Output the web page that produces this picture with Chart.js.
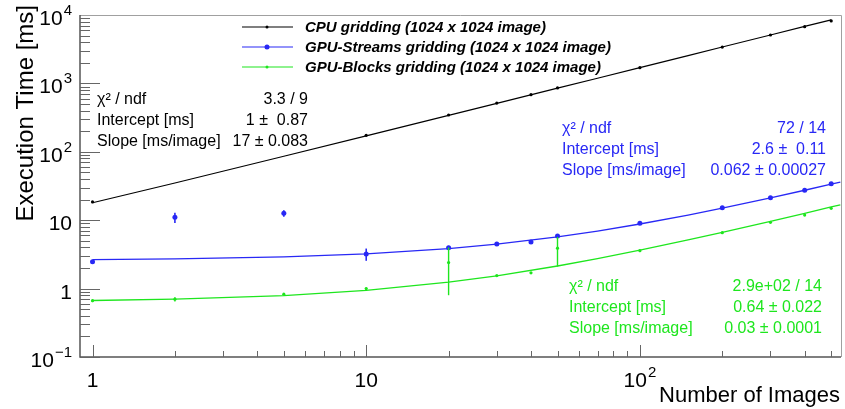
<!DOCTYPE html>
<html>
<head>
<meta charset="utf-8">
<script src="https://cdn.jsdelivr.net/npm/chart.js@4.4.1/dist/chart.umd.min.js"></script>
<style>
  html, body { margin: 0; padding: 0; background: #fff; }
  #wrap { width: 845px; height: 409px; }
</style>
</head>
<body>
<div id="wrap"><canvas id="myChart" width="845" height="409"></canvas></div>
<script>
'use strict';

// measured points
let nImages = [1, 2, 5, 10, 20, 30, 40, 50, 100, 200, 300, 400, 500];
let cpuImages = [1, 10, 20, 30, 40, 50, 100, 200, 300, 400, 500];
let cpuTime = [18.5, 174, 345, 515, 685, 860, 1700, 3400, 5100, 6750, 8200];
let streamsTime = [2.47, 11.0, 12.6, 3.2, 3.96, 4.49, 4.8, 5.87, 9.0, 15.2, 21.3, 27.5, 34.0];
let streamsErr = [0.15, 1.9, 1.4, 0.65, 0.25, 0.1, 0.1, 0.3, 0.3, 0.2, 0.3, 0.3, 0.4];
let blocksTime = [0.665, 0.70, 0.83, 1.0, 2.4, 1.55, 1.7, 3.9, 3.58, 6.56, 9.3, 11.9, 14.9];
let blocksErr = [0.03, 0.05, 0.03, 0.04, 1.6, 0.03, 0.03, 1.8, 0.05, 0.1, 0.1, 0.1, 0.15];

// fit curves
let fitImages = [1, 2, 5, 10, 20, 30, 50, 70, 100, 150, 200, 300, 400, 500, 540];
let cpuFit = [18, 35, 86, 171, 341, 511, 851, 1191, 1701, 2551, 3401, 5101, 6801, 8501];
let streamsFit = [2.66, 2.72, 2.91, 3.22, 3.84, 4.46, 5.70, 6.94, 8.80, 11.9, 15.0, 21.2, 27.4, 33.6, 36.1];
let blocksFit = [0.67, 0.70, 0.79, 0.94, 1.24, 1.54, 2.14, 2.74, 3.64, 5.14, 6.64, 9.64, 12.6, 15.6, 16.8];

// axis tick labels [value, base, exponent]
let yTicks = [[0.1, '10', '\u22121'], [1, '1', ''], [10, '10', ''], [100, '10', '2'], [1000, '10', '3'], [10000, '10', '4']];
let xTicks = [[1, '1', ''], [10, '10', ''], [100, '10', '2']];

let legendNames = ['CPU gridding (1024 x 1024 image)', 'GPU-Streams gridding (1024 x 1024 image)', 'GPU-Blocks gridding (1024 x 1024 image)'];

let black = '#000000';
let blue = 'rgb(40,40,245)';
let green = 'rgb(30,230,30)';

function pts(xs, ys){
    let out = [];
    for (let i = 0; i < ys.length; i++){
        out.push({x: xs[i], y: ys[i]});
    }
    return out;
}

let fontName = '"Liberation Sans", Arial, sans-serif';

function drawPow(ctx, base, exp, x, y, align){
    ctx.font = '21px ' + fontName;
    let bw = ctx.measureText(base).width;
    ctx.font = '15px ' + fontName;
    let ew = exp ? ctx.measureText(exp).width + 1 : 0;
    let total = bw + ew;
    let left = align === 'right' ? x - total : x - total / 2;
    ctx.textAlign = 'left';
    ctx.font = '21px ' + fontName;
    ctx.fillText(base, left, y);
    if (exp){
        ctx.font = '15px ' + fontName;
        ctx.fillText(exp, left + bw + 1, y - 10);
    }
}

let rootPlugin = {
    id: 'rootStyle',
    afterDatasetsDraw(chart){
        let ctx = chart.ctx;
        let xs = chart.scales.x;
        let ys = chart.scales.y;
        // error bars
        let sets = [[streamsTime, streamsErr, blue, 1.6], [blocksTime, blocksErr, green, 1.4]];
        ctx.save();
        for (let s of sets){
            ctx.strokeStyle = s[2];
            ctx.lineWidth = s[3];
            for (let i = 0; i < s[0].length; i++){
                let px = xs.getPixelForValue(nImages[i]);
                ctx.beginPath();
                ctx.moveTo(px, ys.getPixelForValue(s[0][i] - s[1][i]));
                ctx.lineTo(px, ys.getPixelForValue(s[0][i] + s[1][i]));
                ctx.stroke();
            }
        }
        ctx.restore();
    },
    afterDraw(chart){
        let ctx = chart.ctx;
        let a = chart.chartArea;
        let xs = chart.scales.x;
        let ys = chart.scales.y;
        ctx.save();

        // frame
        ctx.lineWidth = 1;
        ctx.strokeStyle = '#a0a0a0';
        ctx.beginPath();
        ctx.moveTo(a.left, a.top + 0.5);
        ctx.lineTo(a.right + 0.5, a.top + 0.5);
        ctx.lineTo(a.right + 0.5, a.bottom);
        ctx.stroke();
        ctx.strokeStyle = '#555';
        ctx.lineWidth = 1.5;
        ctx.beginPath();
        ctx.moveTo(a.left, a.top);
        ctx.lineTo(a.left, a.bottom);
        ctx.lineTo(a.right, a.bottom);
        ctx.stroke();

        // ticks inside the frame
        ctx.lineWidth = 1;
        ctx.strokeStyle = '#666';
        for (let e = -1; e <= 3; e++){
            for (let m = 1; m <= 9; m++){
                let v = m * Math.pow(10, e);
                let py = Math.round(ys.getPixelForValue(v)) + 0.5;
                let len = m === 1 ? 20 : 10;
                ctx.beginPath();
                ctx.moveTo(a.left, py);
                ctx.lineTo(a.left + len, py);
                ctx.stroke();
            }
        }
        for (let e = 0; e <= 2; e++){
            for (let m = 1; m <= 9; m++){
                let v = m * Math.pow(10, e);
                if (v > xs.max) continue;
                let px = Math.round(xs.getPixelForValue(v)) + 0.5;
                let len = m === 1 ? 12 : 6;
                ctx.beginPath();
                ctx.moveTo(px, a.bottom);
                ctx.lineTo(px, a.bottom - len);
                ctx.stroke();
            }
        }

        // tick labels
        ctx.fillStyle = '#000';
        ctx.textBaseline = 'alphabetic';
        for (let t of yTicks){
            drawPow(ctx, t[1], t[2], 72, ys.getPixelForValue(t[0]) + 10, 'right');
        }
        for (let t of xTicks){
            drawPow(ctx, t[1], t[2], xs.getPixelForValue(t[0]), 387, 'center');
        }

        // axis titles
        ctx.font = '22px ' + fontName;
        ctx.textAlign = 'right';
        ctx.fillText('Number of Images', 840, 402);
        ctx.save();
        ctx.font = '24px ' + fontName;
        ctx.translate(33, 5);
        ctx.rotate(-Math.PI / 2);
        ctx.fillText('Execution Time [ms]', 0, 0);
        ctx.restore();

        // legend
        let lcol = [black, blue, green];
        let lrad = [1.5, 2.5, 1.5];
        for (let i = 0; i < 3; i++){
            let ly = 27 + i * 20;
            ctx.strokeStyle = lcol[i];
            ctx.lineWidth = 1.2;
            ctx.beginPath();
            ctx.moveTo(242, ly);
            ctx.lineTo(293, ly);
            ctx.stroke();
            ctx.fillStyle = lcol[i];
            ctx.beginPath();
            ctx.arc(267, ly, lrad[i], 0, Math.PI * 2);
            ctx.fill();
            ctx.fillStyle = '#000';
            ctx.textAlign = 'left';
            ctx.font = 'italic bold 15px ' + fontName;
            ctx.fillText(legendNames[i], 305, ly + 5);
        }

        // fit statistics boxes
        let boxes = [
            {col: black, left: 97, right: 308, top: 104, vals: ['3.3 / 9', '1 \u00b1  0.87', '17 \u00b1 0.083']},
            {col: blue, left: 562, right: 826, top: 133, vals: ['72 / 14', '2.6 \u00b1  0.11', '0.062 \u00b1 0.00027']},
            {col: green, left: 569, right: 822, top: 291, vals: ['2.9e+02 / 14', '0.64 \u00b1 0.022', '0.03 \u00b1 0.0001']}
        ];
        let names = ['\u03c7\u00b2 / ndf', 'Intercept [ms]', 'Slope [ms/image]'];
        ctx.font = '16px ' + fontName;
        for (let b of boxes){
            ctx.fillStyle = b.col;
            for (let r = 0; r < 3; r++){
                let by = b.top + r * 21;
                ctx.textAlign = 'left';
                ctx.fillText(names[r], b.left, by);
                ctx.textAlign = 'right';
                ctx.fillText(b.vals[r], b.right, by);
            }
        }
        ctx.restore();
    }
};

let chartData = {
    datasets: [
        {data: pts(fitImages, cpuFit), type: 'line', borderColor: black, borderWidth: 1.2, pointRadius: 0, tension: 0},
        {data: pts(fitImages, streamsFit), type: 'line', borderColor: blue, borderWidth: 1.3, pointRadius: 0, tension: 0},
        {data: pts(fitImages, blocksFit), type: 'line', borderColor: green, borderWidth: 1.3, pointRadius: 0, tension: 0},
        {data: pts(cpuImages, cpuTime), type: 'scatter', backgroundColor: black, borderColor: black, pointRadius: 1.6, borderWidth: 0},
        {data: pts(nImages, streamsTime), type: 'scatter', backgroundColor: blue, borderColor: blue, pointRadius: 2.5, borderWidth: 0},
        {data: pts(nImages, blocksTime), type: 'scatter', backgroundColor: green, borderColor: green, pointRadius: 1.6, borderWidth: 0}
    ]
};

let ctx = document.getElementById('myChart').getContext('2d');
let myChart = new Chart(ctx, {
    type: 'scatter',
    data: chartData,
    options: {
        responsive: false,
        animation: false,
        devicePixelRatio: 1,
        layout: {padding: {top: 15, right: 3, left: 0, bottom: 0}},
        plugins: {legend: {display: false}, tooltip: {enabled: false}},
        scales: {
            x: {
                type: 'logarithmic', min: 0.9, max: 543,
                grid: {display: false, drawTicks: false},
                border: {display: false},
                ticks: {display: false},
                afterFit(s){ s.height = 52; }
            },
            y: {
                type: 'logarithmic', min: 0.1, max: 10000,
                grid: {display: false, drawTicks: false},
                border: {display: false},
                ticks: {display: false},
                afterFit(s){ s.width = 80; }
            }
        }
    },
    plugins: [rootPlugin]
});
</script>
</body>
</html>
